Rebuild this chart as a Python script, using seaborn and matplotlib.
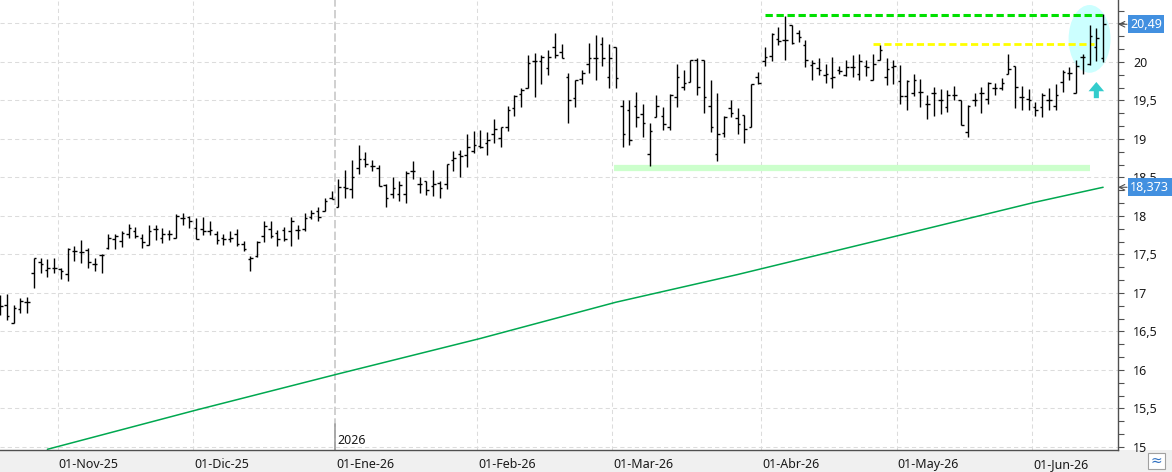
import numpy as np
import pandas as pd
import matplotlib
matplotlib.use('Agg')
import matplotlib.pyplot as plt
import matplotlib.transforms as mtransforms
from matplotlib.patches import Ellipse, FancyArrow, Rectangle
import seaborn as sns

# daily OHLC (one value per trading day)
opens = [16.90, 16.85, 16.61, 16.79, 16.88, 17.26, 17.40, 17.30, 17.33, 17.31,
         17.25, 17.55, 17.53, 17.56, 17.38, 17.49, 17.58, 17.70, 17.67, 17.77,
         17.81, 17.71, 17.62, 17.83, 17.71, 17.77, 17.72, 17.97, 17.99, 17.84,
         17.83, 17.80, 17.77, 17.72, 17.70, 17.77, 17.64, 17.44, 17.48, 17.74,
         17.83, 17.78, 17.82, 17.80, 17.82, 17.83, 17.99, 18.07, 18.07, 18.23,
         18.12, 18.37, 18.35, 18.62, 18.74, 18.65, 18.62, 18.40, 18.29, 18.29,
         18.29, 18.58, 18.42, 18.45, 18.39, 18.43, 18.42, 18.73, 18.80, 18.79,
         18.84, 18.91, 18.95, 19.06, 19.01, 19.15, 19.40, 19.58, 19.66, 20.01,
         20.01, 19.92, 20.20, 20.13, 19.80, 19.53, 19.78, 19.97, 20.05, 20.23,
         19.80, 20.19, 19.43, 19.37, 19.43, 19.32, 18.81, 19.29, 19.30, 19.15,
         19.54, 19.67, 19.74, 20.03, 20.02, 19.43, 18.81, 19.08, 19.40, 19.27,
         19.31, 19.16, 19.80, 20.01, 20.08, 20.30, 20.28, 20.48, 20.38, 20.22,
         19.96, 19.92, 19.83, 19.79, 19.89, 19.83, 19.93, 19.84, 19.95, 19.77,
         20.03, 19.80, 19.94, 19.75, 19.56, 19.60, 19.61, 19.45, 19.60, 19.50,
         19.41, 19.57, 19.50, 19.09, 19.51, 19.60, 19.52, 19.66, 19.66, 19.84,
         19.95, 19.55, 19.52, 19.41, 19.41, 19.50, 19.43, 19.74, 19.86, 19.60,
         20.06, 19.98, 20.20, 20.05]
highs = [16.98, 16.99, 16.84, 16.93, 16.95, 17.46, 17.46, 17.44, 17.46, 17.33,
         17.58, 17.61, 17.69, 17.58, 17.45, 17.51, 17.77, 17.77, 17.80, 17.90,
         17.86, 17.77, 17.88, 17.88, 17.84, 17.82, 18.03, 18.04, 18.00, 17.97,
         17.99, 17.94, 17.80, 17.77, 17.80, 17.83, 17.68, 17.48, 17.68, 17.93,
         17.93, 17.82, 17.86, 17.99, 17.88, 18.04, 18.08, 18.12, 18.23, 18.32,
         18.48, 18.60, 18.73, 18.92, 18.83, 18.73, 18.66, 18.42, 18.50, 18.45,
         18.58, 18.72, 18.51, 18.46, 18.60, 18.45, 18.68, 18.84, 18.86, 19.06,
         19.10, 19.12, 19.09, 19.26, 19.15, 19.43, 19.57, 19.66, 20.09, 20.12,
         20.09, 20.16, 20.37, 20.24, 19.86, 19.77, 19.90, 20.25, 20.35, 20.32,
         20.24, 20.19, 19.51, 19.51, 19.61, 19.45, 19.21, 19.57, 19.42, 19.58,
         19.97, 19.90, 20.02, 20.05, 20.03, 19.77, 19.60, 19.30, 19.51, 19.40,
         19.31, 19.71, 19.87, 20.19, 20.37, 20.45, 20.60, 20.48, 20.42, 20.29,
         20.03, 20.05, 19.97, 20.06, 19.95, 20.02, 20.09, 20.10, 20.03, 20.10,
         20.22, 20.05, 20.02, 19.96, 19.77, 19.84, 19.78, 19.57, 19.67, 19.65,
         19.63, 19.69, 19.50, 19.44, 19.60, 19.68, 19.74, 19.73, 19.79, 20.10,
         19.95, 19.69, 19.65, 19.48, 19.60, 19.66, 19.71, 19.90, 19.93, 20.03,
         20.10, 20.48, 20.44, 20.62]
lows = [16.72, 16.65, 16.61, 16.74, 16.74, 17.07, 17.26, 17.21, 17.26, 17.18,
        17.15, 17.41, 17.39, 17.32, 17.28, 17.26, 17.57, 17.57, 17.60, 17.72,
        17.71, 17.59, 17.62, 17.69, 17.65, 17.69, 17.71, 17.88, 17.84, 17.70,
        17.75, 17.75, 17.64, 17.62, 17.66, 17.61, 17.54, 17.29, 17.47, 17.66,
        17.71, 17.61, 17.68, 17.61, 17.70, 17.80, 17.96, 17.93, 18.06, 18.22,
        18.12, 18.23, 18.24, 18.55, 18.64, 18.58, 18.39, 18.12, 18.24, 18.19,
        18.17, 18.48, 18.30, 18.27, 18.26, 18.24, 18.35, 18.58, 18.51, 18.64,
        18.82, 18.88, 18.79, 18.95, 18.90, 19.11, 19.30, 19.42, 19.66, 19.55,
        19.71, 19.83, 20.05, 20.05, 19.21, 19.41, 19.71, 19.86, 19.76, 19.95,
        19.66, 19.66, 18.89, 18.92, 19.16, 19.02, 18.65, 19.29, 19.12, 19.12,
        19.41, 19.64, 19.74, 19.57, 19.34, 19.09, 18.72, 19.02, 19.28, 19.07,
        18.95, 19.15, 19.72, 19.95, 20.01, 20.22, 20.02, 20.24, 20.26, 19.93,
        19.77, 19.83, 19.73, 19.66, 19.84, 19.82, 19.80, 19.77, 19.82, 19.77,
        20.03, 19.70, 19.71, 19.46, 19.38, 19.56, 19.42, 19.26, 19.30, 19.33,
        19.35, 19.50, 19.18, 19.03, 19.43, 19.34, 19.45, 19.57, 19.64, 19.84,
        19.40, 19.38, 19.38, 19.30, 19.28, 19.37, 19.38, 19.61, 19.76, 19.60,
        19.84, 19.96, 20.01, 20.00]
closes = [16.83, 16.70, 16.80, 16.89, 16.88, 17.46, 17.38, 17.33, 17.32, 17.29,
          17.57, 17.55, 17.53, 17.40, 17.38, 17.49, 17.72, 17.74, 17.78, 17.85,
          17.74, 17.66, 17.80, 17.83, 17.77, 17.77, 18.00, 17.97, 17.94, 17.70,
          17.80, 17.82, 17.69, 17.70, 17.72, 17.64, 17.57, 17.45, 17.66, 17.87,
          17.74, 17.70, 17.70, 17.94, 17.82, 17.97, 18.04, 17.99, 18.20, 18.22,
          18.37, 18.36, 18.51, 18.74, 18.68, 18.65, 18.39, 18.24, 18.36, 18.40,
          18.56, 18.58, 18.42, 18.34, 18.42, 18.36, 18.68, 18.75, 18.78, 18.89,
          18.92, 18.89, 18.99, 19.13, 19.15, 19.37, 19.56, 19.63, 19.99, 20.01,
          20.06, 20.06, 20.09, 20.05, 19.51, 19.77, 19.86, 20.05, 20.05, 20.05,
          20.05, 19.79, 19.06, 18.99, 19.29, 19.21, 19.11, 19.43, 19.20, 19.57,
          19.80, 19.73, 20.02, 19.68, 19.55, 19.16, 19.07, 19.29, 19.34, 19.20,
          19.13, 19.71, 19.73, 20.06, 20.36, 20.27, 20.29, 20.25, 20.33, 20.03,
          19.99, 19.90, 19.84, 19.80, 19.88, 19.94, 19.93, 20.01, 19.94, 19.98,
          20.16, 19.91, 19.95, 19.56, 19.75, 19.77, 19.61, 19.45, 19.60, 19.50,
          19.57, 19.57, 19.18, 19.43, 19.51, 19.60, 19.73, 19.66, 19.73, 19.91,
          19.68, 19.55, 19.51, 19.38, 19.57, 19.50, 19.57, 19.87, 19.86, 19.95,
          20.06, 20.34, 20.31, 20.49]

# long moving average, read at a few bars
ma_bar = [7, 29, 50, 71, 91, 109, 132, 153, 163]
ma_val = [14.97, 15.48, 15.95, 16.41, 16.88, 17.24, 17.73, 18.18, 18.373]

# drawn levels (value, first bar, last bar)
resist_hi = (20.61, 113, 163)
resist_lo = (20.23, 129, 161.7)
support = (18.62, 90.8, 161)

holidays = ['2025-12-25', '2025-12-26', '2026-01-01', '2026-04-03', '2026-04-06', '2026-05-01']
meses = ['Ene', 'Feb', 'Mar', 'Abr', 'May', 'Jun', 'Jul', 'Ago', 'Sep', 'Oct', 'Nov', 'Dic']

dates = pd.bdate_range('2025-10-21', '2026-06-15')
dates = dates[~dates.isin(pd.to_datetime(holidays))]
idx = np.arange(len(dates))

df = pd.DataFrame({'date': dates, 'open': opens, 'high': highs, 'low': lows, 'close': closes}, index=idx)

# month boundaries -> tick positions
month_key = dates.year * 12 + dates.month
first = np.where(np.diff(month_key) != 0)[0] + 1
tick_pos = first - 0.5
tick_lab = [f"01-{meses[dates[i].month - 1]}-{dates[i].year % 100:02d}" for i in first]
jan_pos = [p for p, i in zip(tick_pos, first) if dates[i].month == 1][0]

sns.set_style('white')
plt.rcParams['font.family'] = ['Noto Sans', 'DejaVu Sans']

W, H = 1172, 472
fig = plt.figure(figsize=(W / 100, H / 100), dpi=100)
fig.add_artist(Rectangle((0, 0), 1, 22 / H, transform=fig.transFigure,
                         facecolor='#f0f0f0', edgecolor='none', zorder=-5))
ax = fig.add_axes([0, 22 / H, 1118 / W, 450 / H])

ax.set_xlim(0, 165.2)
ax.set_ylim(14.961, 20.805)

# grid
yt = np.arange(15, 21, 0.5)
for v in yt:
    ax.axhline(v, color='#dcdcdc', lw=0.75, dashes=(4, 3), zorder=0.5)
for p in tick_pos:
    if p == jan_pos:
        ax.axvline(p, color='#c8c8c8', lw=1.2, dashes=(5, 2), zorder=0.5)
    else:
        ax.axvline(p, color='#dcdcdc', lw=0.75, dashes=(4, 3), zorder=0.5)

# highlight ellipse and levels
ax.add_patch(Ellipse((161.0, 20.30), 6.2, 0.88, facecolor='#ccffff', edgecolor='none', zorder=1))
ax.plot([support[1], support[2]], [support[0]] * 2, color='#ccffcc', lw=4.5,
        solid_capstyle='butt', zorder=1.2)
ax.plot([resist_hi[1], resist_hi[2]], [resist_hi[0]] * 2, color='#00e000', lw=2.2,
        dashes=(2.4, 1.2), zorder=3)
ax.plot([resist_lo[1], resist_lo[2]], [resist_lo[0]] * 2, color='#ffff00', lw=2.0,
        dashes=(2.6, 1.3), zorder=3)

sns.lineplot(x=ma_bar, y=ma_val, ax=ax, color='#00a850', lw=1.1, zorder=2)

# OHLC bars
ax.vlines(df.index, df['low'], df['high'], color='black', lw=1.0, zorder=4)
ax.hlines(df['open'], df.index - 0.38, df.index, color='black', lw=1.0, zorder=4)
ax.hlines(df['close'], df.index, df.index + 0.38, color='black', lw=1.0, zorder=4)

# up arrow
ax.add_patch(FancyArrow(162.0, 19.53, 0, 0.21, width=0.75, head_width=2.3, head_length=0.12,
                        length_includes_head=True, facecolor='#33cccc', edgecolor='none', zorder=3))

# axes styling
for s in ['top', 'left']:
    ax.spines[s].set_visible(False)
for s in ['right', 'bottom']:
    ax.spines[s].set_color('#505050')
    ax.spines[s].set_linewidth(1.0)

last_close = closes[-1]
last_ma = ma_val[-1]

ax.yaxis.tick_right()
ax.set_yticks(yt)
# the 20,5 label sits under the last-price box in the original, so it is left blank
ax.set_yticklabels(['' if abs(v - last_close) < 0.2 else f'{v:g}'.replace('.', ',') for v in yt])
ax.set_yticks(np.arange(15, 20.81, 0.5 / 3), minor=True)
ax.tick_params(axis='y', which='major', direction='out', length=4, width=0.8, color='#505050',
               labelsize=9, labelcolor='#1a1a1a', pad=7)
ax.tick_params(axis='y', which='minor', direction='out', length=4, width=0.8, color='#505050')
ax.set_xticks(tick_pos)
ax.set_xticklabels(tick_lab)
ax.tick_params(axis='x', direction='out', length=6, width=0.8, color='#505050',
               labelsize=9, labelcolor='#1a1a1a', pad=0)
for lab in ax.get_xticklabels():
    lab.set_ha('left')
    lab.set_transform(lab.get_transform() + mtransforms.Affine2D().translate(1, 0))
ax.set_xlabel('')
ax.set_ylabel('')

# year marker
bt = mtransforms.blended_transform_factory(ax.transData, ax.transAxes)
ax.plot([jan_pos, jan_pos], [0, 0.058], transform=bt, color='#a0a0a0', lw=1.2, zorder=2)
ax.annotate('2026', xy=(jan_pos, 0), xycoords=bt, xytext=(2, 3), textcoords='offset pixels',
            ha='left', va='bottom', fontsize=9, color='#1a1a1a')

# last value boxes
for v, txt in [(last_close, '20,49'), (last_ma, '18,373')]:
    ax.annotate(txt, xy=(1, v), xycoords=('axes fraction', 'data'), xytext=(12, 0),
                textcoords='offset pixels', ha='left', va='center', fontsize=9, color='white',
                bbox=dict(boxstyle='square,pad=0.2', facecolor='#4290e0', edgecolor='none'),
                annotation_clip=False, zorder=10)
    ax.annotate('', xy=(1, v), xycoords=('axes fraction', 'data'), xytext=(9, 0),
                textcoords='offset pixels',
                arrowprops=dict(arrowstyle='->', color='#505050', lw=0.8, shrinkA=0, shrinkB=0),
                annotation_clip=False, zorder=10)

# small chart-type button bottom right
fig.add_artist(Rectangle((1148 / W, 3 / H), 17 / W, 16 / H, transform=fig.transFigure,
                         facecolor='white', edgecolor='#a0a0a0', lw=0.8))
fig.text(1156.5 / W, 11 / H, '≈', ha='center', va='center', fontsize=10, color='#3070c0')

fig.savefig('out.png', dpi=100)
